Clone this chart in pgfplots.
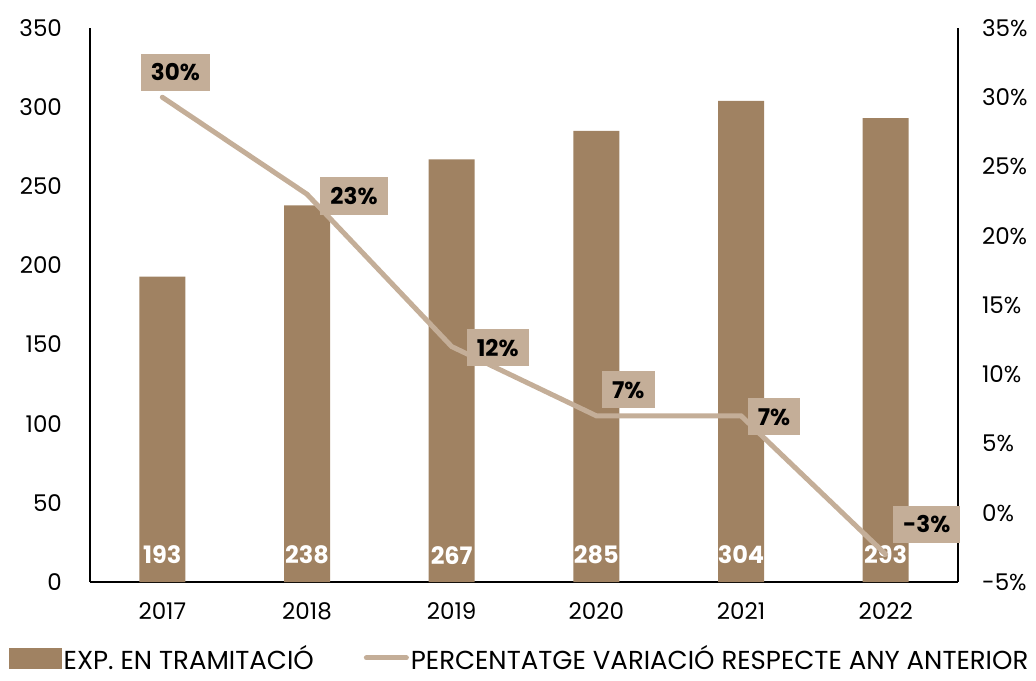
\documentclass[border=0pt]{standalone}
\usepackage{fontspec}
\setmainfont{Poppins}
\usepackage{pgfplots}
\pgfplotsset{compat=1.18}
\definecolor{barc}{RGB}{160,130,98}
\definecolor{linec}{RGB}{196,174,152}
\begin{document}
\fontsize{11.5}{14}\selectfont
\begin{tikzpicture}[x=1pt,y=1pt,
  lbl/.style={fill=linec, font=\fontsize{11.5}{14}\selectfont\bfseries, inner xsep=5pt, inner ysep=5pt, anchor=center}]
\path[use as bounding box] (-45,-49) rectangle (473,291);
\begin{axis}[at={(0,0)}, anchor=south west, scale only axis,
  width=434pt, height=277pt,
  xmin=-0.5, xmax=5.5, ymin=0, ymax=350,
  ytick={0,50,...,350}, xtick={0,...,5},
  xticklabels={2017,2018,2019,2020,2021,2022},
  axis x line*=bottom, axis y line*=left,
  axis line style={line width=0.8pt, -},
  major tick length=0pt,
  /pgf/number format/assume math mode=true,
  tick label style={font=\fontsize{11.5}{14}\selectfont},
  yticklabel style={xshift=-10pt},
  xticklabel style={yshift=-6pt},
  clip=false]
\addplot[ybar, bar width=23pt, fill=barc, draw=none] coordinates {(0,193)(1,238)(2,267)(3,285)(4,304)(5,293)};
\addplot[only marks, mark=none, nodes near coords, point meta=explicit symbolic,
  nodes near coords style={font=\fontsize{12}{14}\selectfont\bfseries, text=white, anchor=center}]
  table[meta=l]{
x y l
0 17 193
1 17 238
2 17 267
3 17 285
4 17 304
5 17 293
};
\end{axis}
\begin{axis}[at={(0,0)}, anchor=south west, scale only axis,
  width=434pt, height=277pt,
  xmin=-0.5, xmax=5.5, ymin=-5, ymax=35,
  ytick={-5,0,5,10,15,20,25,30,35},
  yticklabels={-5\%,0\%,5\%,10\%,15\%,20\%,25\%,30\%,35\%},
  axis x line=none, axis y line*=right,
  axis line style={line width=0.8pt, -},
  major tick length=0pt,
  tick label style={font=\fontsize{11.5}{14}\selectfont},
  yticklabel style={xshift=8pt, anchor=west},
  clip=false,
  legend columns=2,
  legend style={at={(0.495,-0.137)}, anchor=center, draw=none, fill=none,
    font=\fontsize{13}{15}\selectfont, inner sep=0pt,
    /tikz/every odd column/.append style={column sep=0pt},
    /tikz/every even column/.append style={column sep=24pt},
    nodes={inner sep=1pt, text depth=0pt}}]
\addlegendimage{legend image code/.code={\fill[barc] (0pt,-5pt) rectangle (26pt,5pt);}}
\addlegendentry{EXP. EN TRAMITACIÓ}
\addplot[linec, line width=2.5pt, line cap=round, mark=none,
  legend image code/.code={\draw[linec, line width=2.5pt, line cap=round] (0pt,0pt) -- (20pt,0pt);}]
  coordinates {(0,30)(1,23)(2,12)(3,7)(4,7)(5,-3)};
\addlegendentry{PERCENTATGE VARIACIÓ RESPECTE ANY ANTERIOR}
\node[lbl, xshift=6.5pt, yshift=12.5pt] at (axis cs:0,30) {30\%};
\node[lbl, xshift=23.5pt, yshift=-1pt] at (axis cs:1,23) {23\%};
\node[lbl, xshift=23pt, yshift=-0.5pt] at (axis cs:2,12) {12\%};
\node[lbl, xshift=16pt, yshift=13pt] at (axis cs:3,7) {7\%};
\node[lbl, xshift=16.5pt, yshift=-0.5pt] at (axis cs:4,7) {7\%};
\node[lbl, xshift=20.5pt, yshift=15pt] at (axis cs:5,-3) {-3\%};
\end{axis}
\end{tikzpicture}
\end{document}
